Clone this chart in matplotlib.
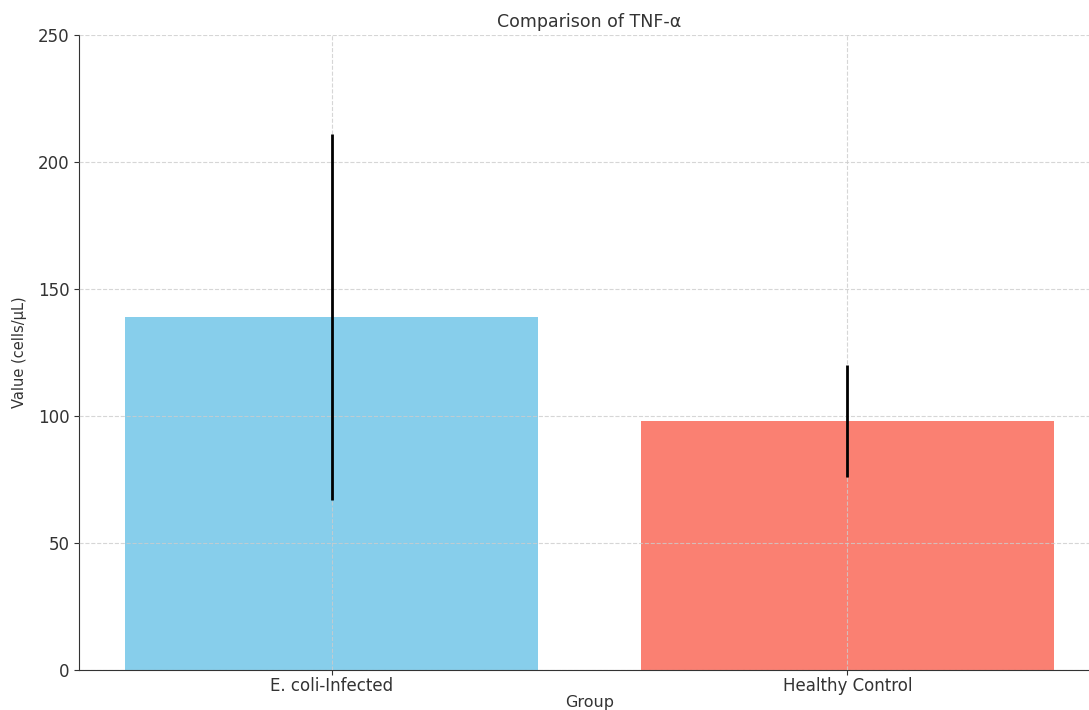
import matplotlib
matplotlib.use('Agg')
import matplotlib.pyplot as plt

# 数据
groups = ['E. coli-Infected', 'Healthy Control']
means = [139, 98]
errors = [72, 22]
colors = ['skyblue', 'salmon']

plt.rcParams['font.family'] = ['DejaVu Sans']
plt.rcParams['text.color'] = '#333333'
plt.rcParams['axes.labelcolor'] = '#333333'
plt.rcParams['xtick.color'] = '#333333'
plt.rcParams['ytick.color'] = '#333333'

fig = plt.figure(figsize=(10.89, 7.10), dpi=100)
# 右侧超出画布（原图被裁切）
ax = fig.add_axes([79 / 1089, 40 / 710, (1100 - 79) / 1089, (670 - 35) / 710])

ax.bar(groups, means, yerr=errors, color=colors, width=0.8,
       error_kw=dict(ecolor='black', elinewidth=2, capsize=0, zorder=3))
ax.set_ylim(0, 250)
ax.set_title('Comparison of TNF-α', fontsize=12.5, pad=6)
ax.set_xlabel('Group', fontsize=11.5, labelpad=0)
ax.set_ylabel('Value (cells/μL)', fontsize=10.5, labelpad=8)
ax.tick_params(axis='both', labelsize=12)
ax.tick_params(axis='x', pad=1.5)
ax.grid(True, linestyle='--', color='#cccccc', alpha=0.8, linewidth=0.8)
ax.set_axisbelow(False)
for s in ['top', 'right']:
    ax.spines[s].set_visible(False)
for s in ['left', 'bottom']:
    ax.spines[s].set_color('#333333')

fig.savefig('out.png', dpi=100)
